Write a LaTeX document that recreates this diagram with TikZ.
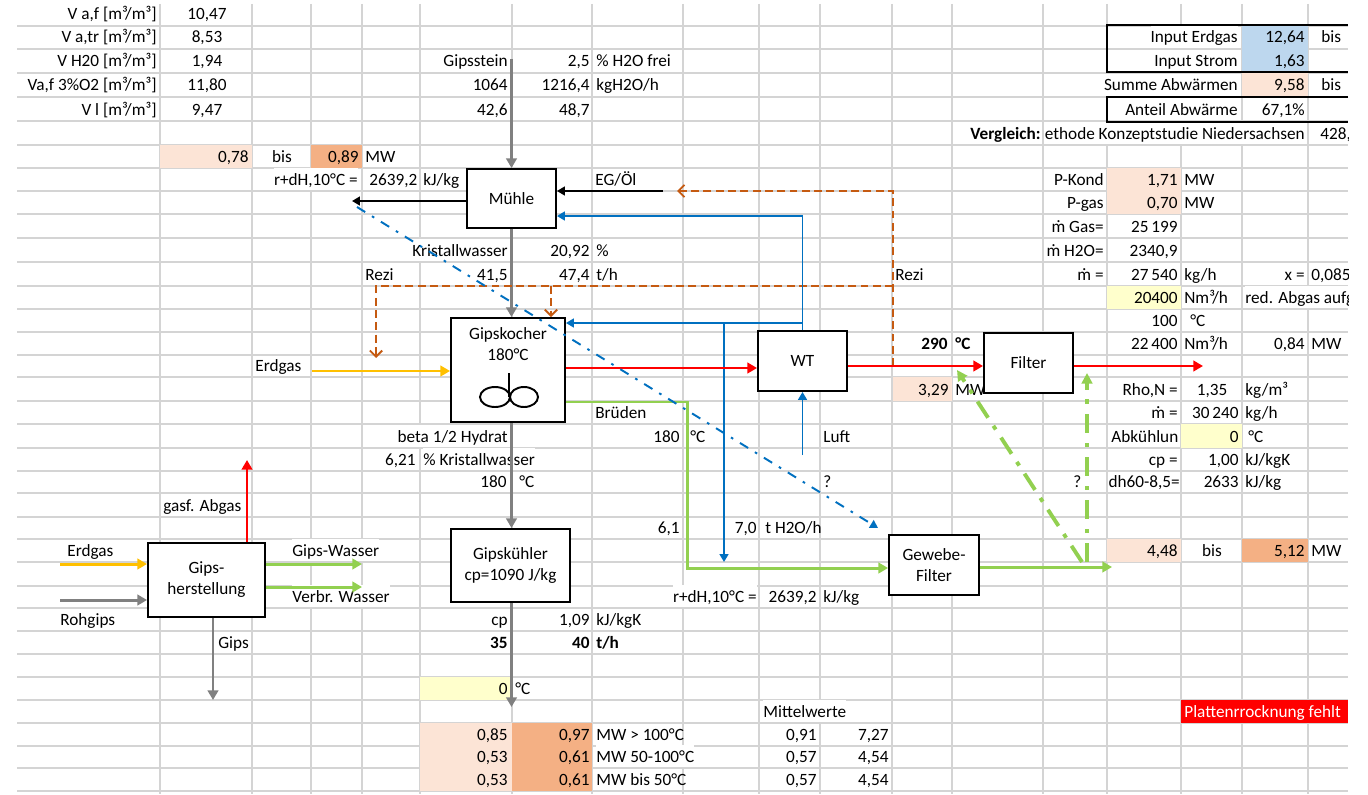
\documentclass[tikz,border=0pt]{standalone}
\usepackage{fontspec}
\setmainfont{Carlito}
\usetikzlibrary{arrows.meta}

\definecolor{gridgray}{HTML}{D4D4D4}
\definecolor{flowgray}{HTML}{808080}
\definecolor{flowblue}{HTML}{0070C0}
\definecolor{flowgreen}{HTML}{92D050}
\definecolor{flowyellow}{HTML}{FFC000}
\definecolor{flowred}{HTML}{FF0000}
\definecolor{reziorange}{HTML}{C55A11}
\definecolor{peachlight}{HTML}{FCE4D6}
\definecolor{peachdark}{HTML}{F4B084}
\definecolor{cellblue}{HTML}{BDD7EE}
\definecolor{cellyellow}{HTML}{FFFFCC}

\begin{document}
\begin{tikzpicture}[x=0.02cm,y=-0.02cm]
\tikzset{
  gridline/.style={draw=gridgray,line width=0.6pt},
  procbox/.style={rectangle,draw=black,line width=1.1pt,fill=white,align=center,inner sep=0pt,font=\fontsize{9.8}{11.9}\selectfont},
  boxtext/.style={inner sep=0pt,align=center,font=\fontsize{9.8}{11.9}\selectfont},
  cell/.style={inner sep=0pt,text height=9.4pt,text depth=3pt,font=\fontsize{9.8}{11.9}\selectfont},
  cellr/.style={cell,anchor=base east},
  celll/.style={cell,anchor=base west},
  cellc/.style={cell,anchor=base},
  bold/.style={font=\fontsize{9.8}{11.9}\selectfont\bfseries},
  ovf/.style={fill=white},
  grayflow/.style={draw=flowgray,line width=1.7pt,-{Triangle[length=5.5pt,width=6pt]}},
  redflow/.style={draw=flowred,line width=1.7pt,-{Triangle[length=5.5pt,width=6pt]}},
  greenflow/.style={draw=flowgreen,line width=1.7pt,-{Triangle[length=5.5pt,width=6pt]}},
  yellowflow/.style={draw=flowyellow,line width=1.7pt,-{Triangle[length=5.5pt,width=6pt]}},
  blueflow/.style={draw=flowblue,line width=1.1pt,-{Triangle[length=4.5pt,width=5pt]}},
  blackflow/.style={draw=black,line width=1.1pt,-{Triangle[length=4.5pt,width=5pt]}},
  reziflow/.style={draw=reziorange,line width=1.1pt,dash pattern=on 4.5pt off 2.5pt,-{Straight Barb[length=3.5pt,width=7pt]}},
  bluedashdot/.style={draw=flowblue,line width=1.1pt,dash pattern=on 5.5pt off 4.5pt on 1.5pt off 4.5pt,-{Triangle[length=4.5pt,width=5pt]}},
  greendashdot/.style={draw=flowgreen,line width=2.2pt,dash pattern=on 11pt off 5.5pt on 2.5pt off 5.5pt,-{Triangle[length=6pt,width=6pt]}}
}
\fill[white] (0,0) rectangle (1368,794);
\useasboundingbox (0,0) rectangle (1368,794);
\begin{scope}
\clip (0,0) rectangle (1348,794);

% spreadsheet grid
\foreach \gx in {160,252,311,362,420,512,592,683,759,820,892,952,1043,1107,1181,1242,1308}
  \draw[gridline] (\gx,4) -- (\gx,794);
\foreach \gy in {26,49,73,97,121,145,168,191,214,238,262,286,309,332,355,377,401,424,448,471,493,517,539,562,586,608,631,654,677,700,723,746,768,791}
  \draw[gridline] (17,\gy) -- (1348,\gy);

% filled cells
\fill[peachlight] (160,145) rectangle (252,168);
\fill[peachdark] (311,145) rectangle (362,168);
\fill[cellblue] (1242,26) rectangle (1308,73);
\fill[peachlight] (1242,73) rectangle (1308,97);
\fill[peachlight] (1107,168) rectangle (1181,214);
\fill[cellyellow] (1107,286) rectangle (1181,309);
\fill[peachlight] (893,377) rectangle (952,401);
\fill[cellyellow] (1181,424) rectangle (1242,448);
\fill[peachlight] (1107,539) rectangle (1181,562);
\fill[peachdark] (1242,539) rectangle (1308,562);
\fill[cellyellow] (420,677) rectangle (512,700);
\fill[peachlight] (420,723) rectangle (512,791);
\fill[peachdark] (512,723) rectangle (592,791);
\fill[flowred] (1181,700) rectangle (1348,723);

% left table
\node[cellr] (t_Vaf) at (157,20) {V a,f [m³/m³]};
\node[cellc] (t_Vaf_v) at (207,20) {10,47};
\node[cellr] (t_Vatr) at (157,43) {V a,tr [m³/m³]};
\node[cellc] (t_Vatr_v) at (207,43) {8,53};
\node[cellr] (t_VH2O) at (157,67) {V H20 [m³/m³]};
\node[cellc] (t_VH2O_v) at (207,67) {1,94};
\node[cellr] (t_Va3) at (157,91) {Va,f 3\%O2 [m³/m³]};
\node[cellc] (t_Va3_v) at (207,91) {11,80};
\node[cellr] (t_Vl) at (157,115) {V l [m³/m³]};
\node[cellc] (t_Vl_v) at (207,115) {9,47};

% middle column texts
\node[cellr] (t_Gipsstein) at (508,67) {Gipsstein};
\node[cellr] (t_25) at (590,67) {2,5};
\node[celll] (t_H2Ofrei) at (596,67) {\% H2O frei};
\node[cellr] (t_1064) at (508,91) {1064};
\node[cellr] (t_12164) at (590,91) {1216,4};
\node[celll] (t_kgH2O) at (596,91) {kgH2O/h};
\node[cellr] (t_426) at (508,115) {42,6};
\node[cellr] (t_487) at (590,115) {48,7};
\node[cellr] (t_078) at (249,162) {0,78};
\node[cellc] (t_bisA) at (282,162) {bis};
\node[cellr] (t_089) at (359,162) {0,89};
\node[celll] (t_MWA) at (365,162) {MW};
\node[cellr,ovf] (t_rdHA) at (358,185) {r+dH,10°C =};
\node[celll] (t_2639A) at (369,185) {2639,2};
\node[celll] (t_kJkgA) at (423,185) {kJ/kg};
\node[celll] (t_EGOel) at (595,185) {EG/Öl};
\node[cellr,ovf] (t_KristA) at (508,256) {Kristallwasser};
\node[cellr] (t_2092) at (590,256) {20,92};
\node[celll] (t_pct) at (596,256) {\%};
\node[celll] (t_ReziL) at (365,280) {Rezi};
\node[cellr] (t_415) at (508,280) {41,5};
\node[cellr] (t_474) at (590,280) {47,4};
\node[celll] (t_th) at (596,280) {t/h};
\node[celll] (t_ReziR) at (895,280) {Rezi};
\node[celll] (t_ErdgasA) at (255,371) {Erdgas};
\node[celll] (t_Brueden) at (595,418) {Brüden};
\node[cellr,ovf] (t_beta) at (508,442) {beta 1/2 Hydrat};
\node[cellr] (t_180A) at (680,442) {180};
\node[celll] (t_degA) at (690,442) {°C};
\node[celll] (t_Luft) at (823,442) {Luft};
\node[cellr] (t_621) at (416,465) {6,21};
\node[celll,ovf] (t_KristB) at (423,465) {\% Kristallwasser};
\node[cellr] (t_180B) at (507,487) {180};
\node[celll] (t_degB) at (519,487) {°C};
\node[celll] (t_qA) at (823,487) {?};
\node[celll] (t_qB) at (1073,487) {?};
\node[celll] (t_Abgas) at (163,511) {gasf. Abgas};
\node[cellr] (t_61) at (680,533) {6,1};
\node[cellr] (t_70) at (757,533) {7,0};
\node[celll] (t_tH2O) at (765,533) {t H2O/h};
\node[celll] (t_ErdgasB) at (67,556) {Erdgas};
\node[celll,ovf] (t_GipsWasser) at (292,556) {Gips-Wasser};
\node[celll,ovf] (t_VerbrWasser) at (292,602) {Verbr. Wasser};
\node[cellr,ovf] (t_rdHB) at (757,602) {r+dH,10°C =};
\node[cellr] (t_2639B) at (817,602) {2639,2};
\node[celll] (t_kJkgB) at (823,602) {kJ/kg};
\node[celll] (t_Rohgips) at (60,625) {Rohgips};
\node[cellr] (t_cpA) at (508,625) {cp};
\node[cellr] (t_109) at (590,625) {1,09};
\node[celll] (t_kJkgK) at (596,625) {kJ/kgK};
\node[celll] (t_Gips) at (218,648) {Gips};
\node[cellr,bold] (t_35) at (508,648) {35};
\node[cellr,bold] (t_40) at (590,648) {40};
\node[celll,bold] (t_thB) at (596,648) {t/h};
\node[cellr] (t_0A) at (508,694) {0};
\node[celll] (t_degC) at (515,694) {°C};
\node[celll,ovf] (t_Mittel) at (763,717) {Mittelwerte};
\node[celll,text=white] (t_Platten) at (1184,717) {Plattenrrocknung fehlt};
\node[cellr] (t_085) at (508,740) {0,85};
\node[cellr] (t_097) at (590,740) {0,97};
\node[celll] (t_MW100) at (596,740) {MW > 100°C};
\node[cellr] (t_091) at (817,740) {0,91};
\node[cellr] (t_727) at (889,740) {7,27};
\node[cellr] (t_053A) at (508,762) {0,53};
\node[cellr] (t_061A) at (590,762) {0,61};
\node[celll,ovf] (t_MW50) at (596,762) {MW 50-100°C};
\node[cellr] (t_057A) at (817,762) {0,57};
\node[cellr] (t_454A) at (889,762) {4,54};
\node[cellr] (t_053B) at (508,785) {0,53};
\node[cellr] (t_061B) at (590,785) {0,61};
\node[celll] (t_MWbis) at (596,785) {MW bis 50°C};
\node[cellr] (t_057B) at (817,785) {0,57};
\node[cellr] (t_454B) at (889,785) {4,54};

% right column texts
\node[cellr,ovf] (t_InErdgas) at (1238,43) {Input Erdgas};
\node[cellr] (t_1264) at (1305,43) {12,64};
\node[celll] (t_bisB) at (1321,43) {bis};
\node[cellr,ovf] (t_InStrom) at (1238,67) {Input Strom};
\node[cellr] (t_163) at (1305,67) {1,63};
\node[cellr,ovf] (t_Summe) at (1238,91) {Summe Abwärmen};
\node[cellr] (t_958) at (1305,91) {9,58};
\node[celll] (t_bisC) at (1321,91) {bis};
\node[cellr,ovf] (t_Anteil) at (1238,115) {Anteil Abwärme};
\node[cellr] (t_671) at (1305,115) {67,1\%};
\node[cellr,ovf,bold] (t_Vergleich) at (1041,139) {Vergleich:};
\node[cellr,ovf] (t_Methode) at (1305,139) {ethode Konzeptstudie Niedersachsen};
\node[celll] (t_428) at (1320,139) {428,};
\node[cellr] (t_PKond) at (1104,185) {P-Kond};
\node[cellr] (t_171) at (1178,185) {1,71};
\node[celll] (t_MWB) at (1184,185) {MW};
\node[cellr] (t_Pgas) at (1104,208) {P-gas};
\node[cellr] (t_070) at (1178,208) {0,70};
\node[celll] (t_MWC) at (1184,208) {MW};
\node[cellr] (t_mGas) at (1104,232) {ṁ Gas=};
\node[cellr] (t_25199) at (1178,232) {25\,199};
\node[cellr] (t_mH2O) at (1104,256) {ṁ H2O=};
\node[cellr] (t_23409) at (1178,256) {2340,9};
\node[cellr] (t_mA) at (1104,280) {ṁ =};
\node[cellr] (t_27540) at (1178,280) {27\,540};
\node[celll] (t_kghA) at (1184,280) {kg/h};
\node[cellr] (t_xeq) at (1305,280) {x =};
\node[celll] (t_0085) at (1311,280) {0,085};
\node[cellr] (t_20400) at (1178,303) {20400};
\node[celll] (t_Nm3A) at (1184,303) {Nm³/h};
\node[celll,ovf] (t_redAbgas) at (1245,303) {red. Abgas aufg};
\node[cellr] (t_100) at (1178,326) {100};
\node[celll] (t_degD) at (1190,326) {°C};
\node[cellr,bold] (t_290) at (948,349) {290};
\node[celll,bold] (t_degE) at (955,349) {°C};
\node[cellr] (t_22400) at (1178,349) {22\,400};
\node[celll] (t_Nm3B) at (1184,349) {Nm³/h};
\node[cellr] (t_084) at (1305,349) {0,84};
\node[celll] (t_MWD) at (1311,349) {MW};
\node[cellr] (t_329) at (949,395) {3,29};
\node[celll] (t_MWE) at (955,395) {MW};
\node[cellr] (t_RhoN) at (1178,395) {Rho,N =};
\node[cellc] (t_135) at (1212,395) {1,35};
\node[celll] (t_kgm3) at (1245,395) {kg/m³};
\node[cellr] (t_mB) at (1178,418) {ṁ =};
\node[cellr] (t_30240) at (1239,418) {30\,240};
\node[celll] (t_kghB) at (1245,418) {kg/h};
\node[celll] (t_Abk) at (1111,442) {Abkühlun};
\node[cellr] (t_0B) at (1239,442) {0};
\node[celll] (t_degF) at (1248,442) {°C};
\node[cellr] (t_cpB) at (1178,465) {cp =};
\node[cellr] (t_100B) at (1239,465) {1,00};
\node[celll] (t_kJkgKB) at (1245,465) {kJ/kgK};
\node[cellr] (t_dh) at (1180,487) {dh60-8,5=};
\node[cellr] (t_2633) at (1239,487) {2633};
\node[celll] (t_kJkgC) at (1245,487) {kJ/kg};
\node[cellr] (t_448) at (1178,556) {4,48};
\node[cellc] (t_bisD) at (1212,556) {bis};
\node[cellr] (t_512) at (1305,556) {5,12};
\node[celll] (t_MWF) at (1311,556) {MW};

% framed cells top right
\draw[line width=1.1pt] (1348,25) -- (1107,25) -- (1107,72) -- (1348,72);
\draw[line width=1.1pt] (1348,97) -- (1107,97) -- (1107,122) -- (1348,122);

% process boxes
\node[procbox,minimum width=1.78cm,minimum height=1.18cm] (n_Muehle) at (511.5,198.5) {Mühle};
\node[procbox,minimum width=2.28cm,minimum height=2.08cm] (n_Kocher) at (508,370) {};
\node[boxtext] (n_KocherTxt) at (508,344.5) {Gipskocher\\180°C};
\draw[line width=1.1pt] (509,373) -- (509,397);
\draw[line width=1.1pt] (495,397) ellipse [x radius=15,y radius=10];
\draw[line width=1.1pt] (524,397) ellipse [x radius=14,y radius=10];
\node[procbox,minimum width=1.78cm,minimum height=1.20cm] (n_WT) at (802.5,361) {WT};
\node[procbox,minimum width=1.78cm,minimum height=1.20cm] (n_Filter) at (1028.5,363) {Filter};
\node[procbox,minimum width=1.80cm,minimum height=1.20cm] (n_Gewebe) at (934,565) {Gewebe-\\Filter};
\node[procbox,minimum width=2.38cm,minimum height=1.46cm] (n_Kuehler) at (510.5,565.5) {Gipskühler\\cp=1090 J/kg};
\node[procbox,minimum width=2.34cm,minimum height=1.48cm] (n_Herst) at (206.5,580) {Gips-\\herstellung};

% free ends
\coordinate (c_Gipsstein) at (511.5,59);
\coordinate (c_KuehlerOut) at (511.5,707);
\coordinate (c_MuehleLeft) at (352,201);
\coordinate (c_EGOel) at (663,191);
\coordinate (c_BlueTop) at (802.5,216);
\coordinate (c_BlueMid) at (802.5,323);
\coordinate (c_BlueBranch) at (724,323);
\coordinate (c_BlueDown) at (724,562);
\coordinate (c_Luft) at (802.5,455);
\coordinate (c_DashStart) at (357,207);
\coordinate (c_DashEnd) at (878,528);
\coordinate (c_RedA) at (700,368);
\coordinate (c_RedB) at (900,366);
\coordinate (c_FilterOut) at (1203,366);
\coordinate (c_Abgas) at (247,460);
\coordinate (c_Brueden) at (687,402);
\coordinate (c_BruedenDn) at (687,568);
\coordinate (c_GewOut) at (1112,567);
\coordinate (c_GrFootA) at (1082,562);
\coordinate (c_GrTipA) at (957,370);
\coordinate (c_GrFootB) at (1087,562);
\coordinate (c_GrTipB) at (1087,373);
\coordinate (c_GipsWasser) at (362,564);
\coordinate (c_VerbrWasser) at (362,587);
\coordinate (c_ErdgasA) at (312,371);
\coordinate (c_ErdgasB) at (60,564);
\coordinate (c_Rohgips) at (60,600);
\coordinate (c_Gips) at (213,700);
\coordinate (c_RezStart) at (893,366);
\coordinate (c_RezCorner) at (893,191);
\coordinate (c_RezTip) at (677,191);
\coordinate (c_RezRight) at (893,286);
\coordinate (c_RezLeft) at (376,286);
\coordinate (c_RezLeftTip) at (376,358);
\coordinate (c_RezMid) at (551,286);

% gypsum path
\draw[grayflow] (c_Gipsstein) -- (n_Muehle.north);
\draw[grayflow] (n_Muehle.south) -- (n_Muehle.south |- n_Kocher.north);
\draw[grayflow] (n_Muehle.south |- n_Kocher.south) -- (n_Muehle.south |- n_Kuehler.north);
\draw[grayflow] (n_Muehle.south |- n_Kuehler.south) -- (c_KuehlerOut);
\draw[blackflow] (n_Muehle.west |- c_MuehleLeft) -- (c_MuehleLeft);
\draw[blackflow] (c_EGOel) -- (n_Muehle.east |- c_EGOel);

% recirculation
\draw[reziflow] (c_RezStart) -- (c_RezCorner) -- (c_RezTip);
\draw[reziflow] (c_RezRight) -- (c_RezLeft) -- (c_RezLeftTip);
\draw[reziflow] (c_RezMid) -- (c_RezMid |- n_Kocher.north);

% air
\draw[blueflow] (n_WT.north) -- (c_BlueTop) -- (n_Muehle.east |- c_BlueTop);
\draw[blueflow] (c_BlueMid) -- (n_Kocher.east |- c_BlueMid);
\draw[blueflow] (c_BlueBranch) -- (c_BlueDown);
\draw[blueflow] (c_Luft) -- (n_WT.south);

% flue gas
\draw[yellowflow] (c_ErdgasA) -- (n_Kocher.west |- c_ErdgasA);
\draw[redflow] (n_Kocher.east |- c_RedA) -- (n_WT.west |- c_RedA);
\draw[redflow] (n_WT.east |- c_RedB) -- (n_Filter.west |- c_RedB);
\draw[redflow] (n_Filter.east |- c_RedB) -- (c_FilterOut);

% vapour
\draw[greenflow] (n_Kocher.east |- c_Brueden) -- (c_Brueden) -- (c_BruedenDn) -- (n_Gewebe.west |- c_BruedenDn);
\draw[greenflow] (n_Gewebe.east |- c_GewOut) -- (c_GewOut);
\draw[greendashdot] (c_GrFootA) -- (c_GrTipA);
\draw[greendashdot] (c_GrFootB) -- (c_GrTipB);
\draw[bluedashdot] (c_DashStart) -- (c_DashEnd);

% gypsum production
\draw[yellowflow] (c_ErdgasB) -- (n_Herst.west |- c_ErdgasB);
\draw[grayflow] (c_Rohgips) -- (n_Herst.west |- c_Rohgips);
\draw[redflow] (c_Abgas |- n_Herst.north) -- (c_Abgas);
\draw[greenflow] (n_Herst.east |- c_GipsWasser) -- (c_GipsWasser);
\draw[greenflow] (n_Herst.east |- c_VerbrWasser) -- (c_VerbrWasser);
\draw[grayflow] (c_Gips |- n_Herst.south) -- (c_Gips);
\end{scope}
\end{tikzpicture}
\end{document}
